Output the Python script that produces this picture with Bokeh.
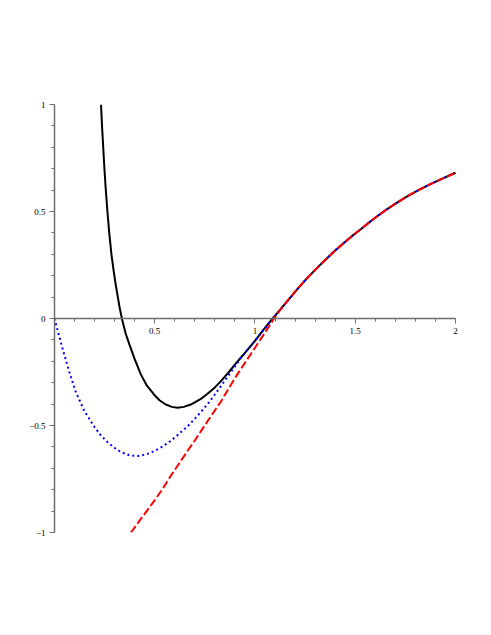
from bokeh.plotting import figure
from bokeh.models import Range1d, FixedTicker, CustomJSTickFormatter
from bokeh.embed import file_html
from bokeh.resources import INLINE

# ---- data ----
black_x = [0.232, 0.237, 0.243, 0.249, 0.256, 0.264, 0.273, 0.284, 0.297, 0.306, 0.315,
           0.325, 0.336, 0.355, 0.373, 0.400, 0.430, 0.460, 0.497, 0.525, 0.555, 0.585,
           0.614, 0.645, 0.680, 0.730, 0.763, 0.800, 0.829, 0.870, 0.912, 0.955, 0.995,
           1.040, 1.088]
black_y = [1.0, 0.90, 0.80, 0.70, 0.60, 0.50, 0.40, 0.30, 0.21, 0.155, 0.105,
           0.05, 0.0, -0.07, -0.12, -0.19, -0.26, -0.313, -0.356, -0.383, -0.402, -0.413,
           -0.417, -0.413, -0.402, -0.376, -0.352, -0.322, -0.294, -0.25, -0.202, -0.155, -0.11,
           -0.055, 0.0]

blue_x = [0.0, 0.012, 0.024, 0.049, 0.074, 0.107, 0.148, 0.198, 0.230, 0.265, 0.300,
          0.331, 0.370, 0.414, 0.455, 0.497, 0.540, 0.580, 0.620, 0.663, 0.713, 0.763,
          0.800, 0.846, 0.890, 0.929, 0.970, 1.012, 1.050, 1.088]
blue_y = [0.0, -0.043, -0.085, -0.17, -0.25, -0.345, -0.43, -0.505, -0.545, -0.578, -0.605,
          -0.624, -0.638, -0.643, -0.636, -0.620, -0.598, -0.572, -0.54, -0.505, -0.455, -0.401,
          -0.355, -0.295, -0.237, -0.185, -0.138, -0.090, -0.045, 0.0]

red_x = [0.381, 0.440, 0.497, 0.540, 0.580, 0.620, 0.663, 0.700, 0.742, 0.785, 0.829,
         0.870, 0.912, 0.955, 0.995, 1.040, 1.078, 1.095]
red_y = [-1.0, -0.925, -0.853, -0.795, -0.735, -0.68, -0.619, -0.57, -0.51, -0.45, -0.39,
         -0.325, -0.261, -0.20, -0.144, -0.08, -0.025, 0.0]

# common tail where all three curves coincide
tail_x = [1.125, 1.16, 1.203, 1.24, 1.277, 1.32, 1.361, 1.40, 1.443, 1.485, 1.526, 1.56,
          1.593, 1.65, 1.701, 1.759, 1.82, 1.875, 1.94, 2.0]
tail_y = [0.040, 0.080, 0.128, 0.168, 0.205, 0.246, 0.283, 0.318, 0.353, 0.386, 0.416, 0.442,
          0.466, 0.505, 0.537, 0.571, 0.602, 0.628, 0.656, 0.681]

x_major = [0.5, 1, 1.5, 2]
x_minor = [i / 10 for i in range(1, 21)]
y_major = [-1, -0.5, 0, 0.5, 1]
y_minor = [i / 10 for i in range(-10, 11)]

p = figure(width=475, height=619, output_backend="svg", toolbar_location=None,
           x_range=Range1d(0, 2.05), y_range=Range1d(-1, 1),
           min_border_left=54, min_border_right=10, min_border_top=104, min_border_bottom=87)
p.outline_line_color = None
p.xgrid.visible = False
p.ygrid.visible = False
p.background_fill_color = "white"
p.border_fill_color = "white"

fmt = CustomJSTickFormatter(code="return tick.toString().replace('-', '\u2212');")
for ax, major, minor in ((p.xaxis[0], x_major, x_minor), (p.yaxis[0], y_major, y_minor)):
    ax.ticker = FixedTicker(ticks=major, minor_ticks=minor)
    ax.formatter = fmt
    ax.axis_line_color = "#6e6e6e"
    ax.axis_line_width = 1.5
    ax.major_tick_line_color = "#6e6e6e"
    ax.minor_tick_line_color = "#6e6e6e"
    ax.major_tick_in = 0
    ax.major_tick_out = 5
    ax.minor_tick_in = 0
    ax.minor_tick_out = 3
    ax.major_label_text_font = "Liberation Serif"
    ax.major_label_text_font_size = "9px"
    ax.major_label_text_color = "black"
    ax.major_label_standoff = 4

p.xaxis[0].fixed_location = 0
p.xaxis[0].bounds = (0, 2)

p.line(black_x + tail_x, black_y + tail_y, line_color="black", line_width=2)
p.line(blue_x + tail_x, blue_y + tail_y, line_color="#0000ff", line_width=2, line_dash="2 3")
p.line(red_x + tail_x, red_y + tail_y, line_color="#ff0000", line_width=2, line_dash="8 3")

open("out.html", "w").write(file_html(p, INLINE))
